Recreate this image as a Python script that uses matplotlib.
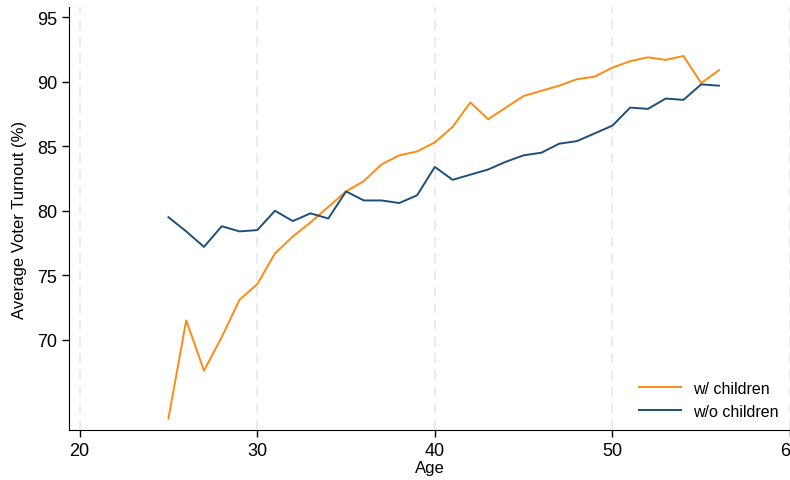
import matplotlib.pyplot as plt

plt.rcParams['font.family'] = ['Liberation Sans', 'DejaVu Sans']

ages = list(range(25, 57))
with_children = [63.9, 71.5, 67.6, 70.2, 73.1, 74.3, 76.7, 78.0, 79.1, 80.3,
                 81.5, 82.3, 83.6, 84.3, 84.6, 85.3, 86.5, 88.4, 87.1, 88.0,
                 88.9, 89.3, 89.7, 90.2, 90.4, 91.1, 91.6, 91.9, 91.7, 92.0,
                 89.9, 90.9]
without_children = [79.5, 78.4, 77.2, 78.8, 78.4, 78.5, 80.0, 79.2, 79.8, 79.4,
                    81.5, 80.8, 80.8, 80.6, 81.2, 83.4, 82.4, 82.8, 83.2, 83.8,
                    84.3, 84.5, 85.2, 85.4, 86.0, 86.6, 88.0, 87.9, 88.7, 88.6,
                    89.8, 89.7]
x_ticks = [20, 30, 40, 50, 60]
y_ticks = [70, 75, 80, 85, 90, 95]

fig = plt.figure(figsize=(7.9, 4.81), dpi=100)
ax = fig.add_axes([69 / 790, 50 / 481, 1 - 69 / 790, 423 / 481])

for x in x_ticks:
    ax.axvline(x, color='#e8e8e8', lw=1.2, ls=(0, (6, 4)), zorder=0)

ax.plot(ages, with_children, color='#ff8a14', lw=1.4, label='w/ children')
ax.plot(ages, without_children, color='#1f4e79', lw=1.4, label='w/o children')

ax.set_xlim(19.4, 60)
ax.set_ylim(63.0, 95.8)
ax.set_xticks(x_ticks)
ax.set_yticks(y_ticks)
ax.tick_params(labelsize=13, length=5, width=1)
ax.spines['top'].set_visible(False)
ax.spines['right'].set_visible(False)
ax.set_xlabel('Age', fontsize=12, labelpad=1)
ax.set_ylabel('Average Voter Turnout (%)', fontsize=12, labelpad=7)

ax.legend(loc='lower right', frameon=False, fontsize=11.5, handlelength=2.6,
          handletextpad=0.8, borderaxespad=0.3, bbox_to_anchor=(1.0, 0.0))

fig.savefig('out.png', dpi=100)
